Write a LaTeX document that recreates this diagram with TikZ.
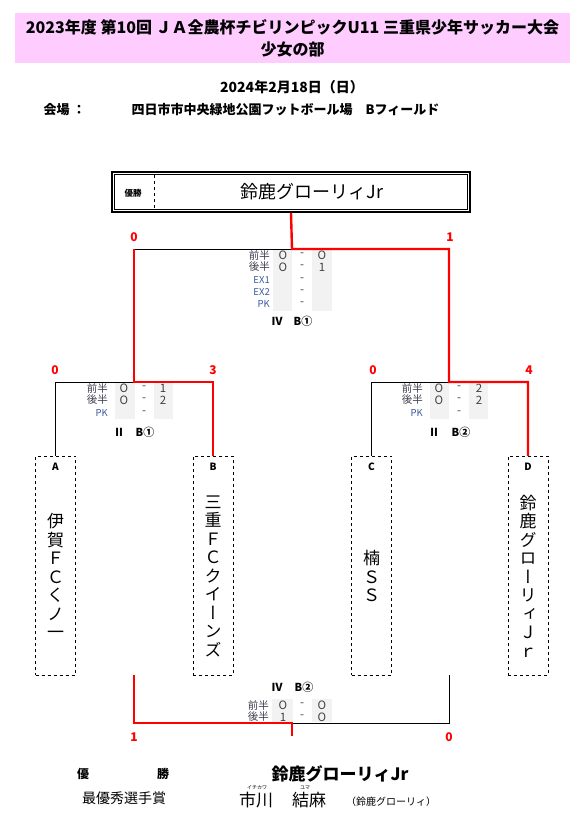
\documentclass[tikz,border=0pt]{standalone}
\usepackage{fontspec}
\setmainfont{Noto Sans CJK JP}
\newfontfamily\vertfont[RawFeature=+vert]{Noto Sans CJK JP}
\usepackage{xcolor}
\usepackage{tikz}
\usetikzlibrary{positioning,calc}
\definecolor{titlepink}{RGB}{255,204,255}
\definecolor{cellgray}{RGB}{242,242,242}
\definecolor{labblue}{RGB}{60,90,160}
\definecolor{labdark}{RGB}{64,64,80}
\newcommand{\fsz}[1]{\fontsize{#1}{#1}\selectfont}

\begin{document}
\begin{tikzpicture}[x=1pt, y=-1pt,
  teambox/.style={draw, dashed, minimum width=40pt, minimum height=219pt, inner sep=0pt},
  teamname/.style={font=\vertfont\fontsize{17}{18.5}\selectfont, align=center, inner sep=0pt},
  teamlet/.style={font=\bfseries\fsz{10}},
  win/.style={red, line width=2.4pt},
  lose/.style={black, line width=0.8pt},
  score/.style={text=red, font=\bfseries\fsz{12}},
  half/.style={text=labdark, font=\fsz{10.5}, anchor=east, inner sep=0pt},
  extra/.style={text=labblue, font=\fsz{9.5}, anchor=east, inner sep=0pt},
  val/.style={text=black!75, font=\fsz{11.5}, inner sep=0pt},
  cell/.style={fill=cellgray},
  game/.style={font=\bfseries\fsz{11}},
]
  \fill[white] (0,0) rectangle (585,829);
  \useasboundingbox (0,0) rectangle (585,829);

  % header
  \node[fill=titlepink, minimum width=555pt, minimum height=50pt, align=center,
    font=\bfseries\fontsize{16}{22}\selectfont] (title) at (292.5,38)
    {2023年度 第10回 ＪＡ全農杯チビリンピックU11 三重県少年サッカー大会\\少女の部};
  \node[font=\bfseries\fsz{14}] (date) at (292,87) {2024年2月18日（日）};
  \node[font=\bfseries\fsz{13}, anchor=west] (venuelab) at (40,110) {会場 ：};
  \node[font=\bfseries\fsz{13}, anchor=west] (venue) at (128,110)
    {四日市市中央緑地公園フットボール場　Bフィールド};

  % champion box
  \node[draw, line width=1.8pt, minimum width=358pt, minimum height=40pt, inner sep=0pt] (champ) at (291,192) {};
  \draw[line width=0.8pt] ([xshift=3.5pt,yshift=-3.5pt]champ.north west)
    rectangle ([xshift=-3.5pt,yshift=3.5pt]champ.south east);
  \draw[dashed, thin] (154,175) -- (154,209);
  \node[font=\bfseries\fsz{8.5}] (champlab) at (133,193) {優勝};
  \node[font=\fsz{18}] (champname) at (312,192) {鈴鹿グローリィJr};

  % teams
  \node[teambox] (tA) at (55.5,565.5) {};
  \node[teambox] (tB) at (213,565.5) {};
  \node[teambox] (tC) at (371.5,565.5) {};
  \node[teambox] (tD) at (528,565.5) {};
  \node[teamlet] (lA) at (55.5,467) {A};
  \node[teamlet] (lB) at (213,467) {B};
  \node[teamlet] (lC) at (371.5,467) {C};
  \node[teamlet] (lD) at (528,467) {D};
  \node[teamname] (nA) at (55.5,576) {伊\\賀\\Ｆ\\Ｃ\\く\\ノ\\一};
  \node[teamname] (nB) at (213,576) {三\\重\\Ｆ\\Ｃ\\ク\\イ\\ー\\ン\\ズ};
  \node[teamname] (nC) at (371.5,576) {楠\\Ｓ\\Ｓ};
  \node[teamname] (nD) at (528,576) {鈴\\鹿\\グ\\ロ\\ー\\リ\\ィ\\Ｊ\\ｒ};

  % score cells
  \fill[cell] (273,250) rectangle (292,311);
  \fill[cell] (312,250) rectangle (332,311);
  \fill[cell] (115,383) rectangle (135,419);
  \fill[cell] (154,383) rectangle (173,419);
  \fill[cell] (430,383) rectangle (449,419);
  \fill[cell] (469,383) rectangle (488,419);
  \fill[cell] (272,699) rectangle (293,722);
  \fill[cell] (312,699) rectangle (332,722);

  % bracket
  \coordinate (m1) at (134,382);
  \coordinate (m2) at (449,382);
  \coordinate (f1) at (292,249);
  \coordinate (b1) at (134,675);
  \coordinate (b2) at (449,675);
  \coordinate (t3) at (292,723);
  \coordinate (t3e) at (292,736);
  \draw[lose] (tA.north) |- (m1);
  \draw[lose] (tC.north) |- (m2);
  \draw[lose] (m1 |- f1) -- (f1);
  \draw[lose] (b2) |- (t3);
  \draw[win] (tB.north) |- (m1) -- (m1 |- f1);
  \draw[win] (tD.north) |- (m2) |- (f1) -- (champ.south);
  \draw[win] (b1) |- (t3) -- (t3e);

  % scores
  \node[score] (sF1) at (134,237) {0};
  \node[score] (sF2) at (450,237) {1};
  \node[score] (sA) at (55,370) {0};
  \node[score] (sB) at (213,370) {3};
  \node[score] (sC) at (373,370) {0};
  \node[score] (sD) at (529,370) {4};
  \node[score] (s3L) at (134,737) {1};
  \node[score] (s3R) at (449,737) {0};

  % final table
  \foreach \lab/\a/\b/\yy [count=\i] in {前半/O/O/255,後半/O/1/267}{
    \node[half] (fl\i) at (270,\yy) {\lab};
    \node[val] (fa\i) at (283,\yy) {\a};
    \node[val] (fd\i) at (302,\yy) {-};
    \node[val] (fb\i) at (322,\yy) {\b};
  }
  \foreach \lab/\yy [count=\i] in {EX1/280,EX2/292,PK/304}{
    \node[extra] (fx\i) at (270,\yy) {\lab};
    \node[val] (fy\i) at (302,\yy) {-};
  }
  \node[game] (gF1) at (277,321) {Ⅳ};
  \node[game] (gF2) at (303,321) {B①};

  % semifinal B1
  \foreach \lab/\a/\b/\yy [count=\i] in {前半/O/1/388,後半/O/2/400}{
    \node[half] (ll\i) at (108,\yy) {\lab};
    \node[val] (la\i) at (124,\yy) {\a};
    \node[val] (ld\i) at (144,\yy) {-};
    \node[val] (lb\i) at (163,\yy) {\b};
  }
  \node[extra] (lx) at (108,413) {PK};
  \node[val] (ly) at (144,413) {-};
  \node[game] (gL1) at (119,432) {Ⅱ};
  \node[game] (gL2) at (145,432) {B①};

  % semifinal B2
  \foreach \lab/\a/\b/\yy [count=\i] in {前半/O/2/388,後半/O/2/400}{
    \node[half] (rl\i) at (423,\yy) {\lab};
    \node[val] (ra\i) at (439,\yy) {\a};
    \node[val] (rd\i) at (459,\yy) {-};
    \node[val] (rb\i) at (479,\yy) {\b};
  }
  \node[extra] (rx) at (423,413) {PK};
  \node[val] (ry) at (459,413) {-};
  \node[game] (gR1) at (434,432) {Ⅱ};
  \node[game] (gR2) at (461,432) {B②};

  % third place
  \node[game] (g31) at (277,687) {Ⅳ};
  \node[game] (g32) at (304,687) {B②};
  \foreach \lab/\a/\b/\yy [count=\i] in {前半/O/O/705,後半/1/O/717}{
    \node[half] (tl\i) at (269,\yy) {\lab};
    \node[val] (ta\i) at (283,\yy) {\a};
    \node[val] (td\i) at (302,\yy) {-};
    \node[val] (tb\i) at (322,\yy) {\b};
  }

  % result
  \node[font=\bfseries\fsz{12}] (yu) at (83,774) {優};
  \node[font=\bfseries\fsz{12}] (sho) at (163,774) {勝};
  \node[font=\bfseries\fsz{17}] (champ2) at (340,774) {鈴鹿グローリィJr};
  \node[font=\fsz{14}] (mvp) at (124,798) {最優秀選手賞};
  \node[font=\fsz{5}] (rubyfam) at (257,788) {イチカワ};
  \node[font=\fsz{5}] (rubygiv) at (305,788) {ユマ};
  \node[font=\fsz{17}] (mvpfam) at (256,800) {市川};
  \node[font=\fsz{17}] (mvpgiv) at (309,800) {結麻};
  \node[font=\fsz{10}] (mvpteam) at (391,802) {（鈴鹿グローリィ）};
\end{tikzpicture}
\end{document}
